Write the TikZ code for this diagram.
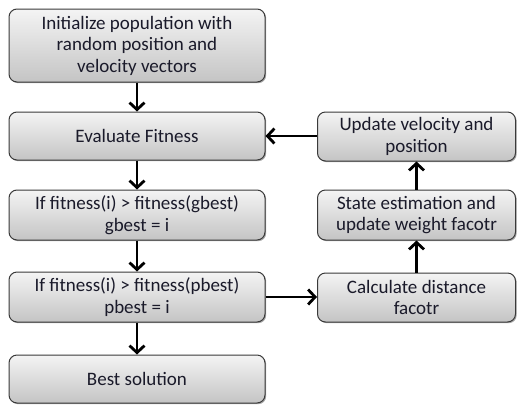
\documentclass[tikz,border=0pt]{standalone}
\usepackage{fontspec}
\setmainfont{Carlito}
\usetikzlibrary{arrows.meta,shadows}
\definecolor{boxtop}{HTML}{F4F4F4}
\definecolor{boxbot}{HTML}{C4C4C4}
\definecolor{boxline}{HTML}{3A3A3A}
\definecolor{txt}{HTML}{1A1A2A}
\tikzset{
  box/.style={draw=boxline, line width=1pt, rounded corners=8pt,
    top color=boxtop, bottom color=boxbot, align=center, text=txt,
    font=\fontsize{19}{21.5}\selectfont, inner sep=0pt,
    drop shadow={shadow xshift=1.2pt, shadow yshift=-1.2pt, opacity=0.35, fill=black}},
  conn/.style={line width=2.8pt, -{Straight Barb[length=7pt,width=15pt,line width=2.8pt]}}
}
\begin{document}
\begin{tikzpicture}[x=1pt,y=-1pt]
\useasboundingbox (0,0) rectangle (517,405);
\node[box, minimum width=256pt, minimum height=73pt] (init) at (137,45.5) {Initialize population with\\random position and\\velocity vectors};
\node[box, minimum width=256pt, minimum height=48pt] (eval) at (137,136) {Evaluate Fitness};
\node[box, minimum width=256pt, minimum height=50pt] (gb) at (137,215) {If fitness(i) {>} fitness(gbest)\\gbest = i};
\node[box, minimum width=256pt, minimum height=50pt] (pb) at (137,297) {If fitness(i) {>} fitness(pbest)\\pbest = i};
\node[box, minimum width=256pt, minimum height=48pt] (best) at (137,379) {Best solution};
\node[box, minimum width=198pt, minimum height=49pt] (upd) at (416.5,136.5) {Update velocity and\\position};
\node[box, minimum width=198pt, minimum height=50pt] (state) at (416.5,215) {State estimation and\\update weight facotr};
\node[box, minimum width=198pt, minimum height=49pt] (calc) at (416.5,297.5) {Calculate distance\\facotr};
\draw[conn] (init) -- (eval);
\draw[conn] (eval) -- (gb);
\draw[conn] (gb) -- (pb);
\draw[conn] (pb) -- (best);
\draw[conn] (pb.east) -- (calc.west |- pb.east);
\draw[conn] (calc) -- (state);
\draw[conn] (state) -- (upd);
\draw[conn] (upd.west |- eval.east) -- (eval.east);
\end{tikzpicture}
\end{document}
